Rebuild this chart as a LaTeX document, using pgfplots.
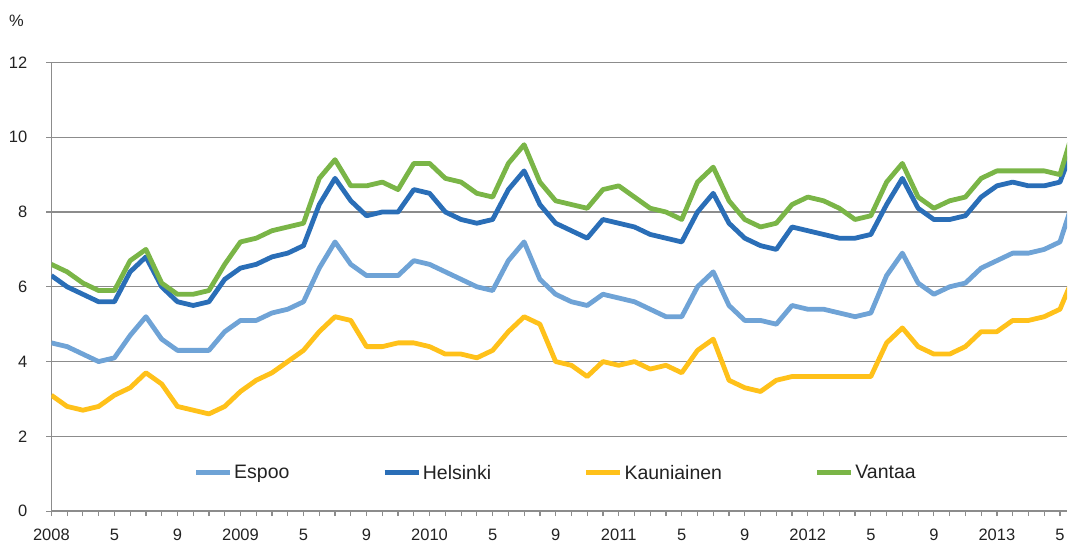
\documentclass[border=0pt]{standalone}
\usepackage{pgfplots}
\usepackage{pgfplotstable}
\pgfplotsset{compat=1.18}
\usepackage{fontspec}
\setmainfont{Liberation Sans}
\definecolor{espoo}{HTML}{6FA3D6}
\definecolor{helsinki}{HTML}{2A6EB7}
\definecolor{kaun}{HTML}{FFC11A}
\definecolor{vantaa}{HTML}{7AB547}
\definecolor{gridc}{HTML}{8C8C8C}
\definecolor{txt}{HTML}{222222}
\pgfplotstableread{
idx E H K V
0 4.5 6.3 3.1 6.6
1 4.4 6.0 2.8 6.4
2 4.2 5.8 2.7 6.1
3 4.0 5.6 2.8 5.9
4 4.1 5.6 3.1 5.9
5 4.7 6.4 3.3 6.7
6 5.2 6.8 3.7 7.0
7 4.6 6.0 3.4 6.1
8 4.3 5.6 2.8 5.8
9 4.3 5.5 2.7 5.8
10 4.3 5.6 2.6 5.9
11 4.8 6.2 2.8 6.6
12 5.1 6.5 3.2 7.2
13 5.1 6.6 3.5 7.3
14 5.3 6.8 3.7 7.5
15 5.4 6.9 4.0 7.6
16 5.6 7.1 4.3 7.7
17 6.5 8.2 4.8 8.9
18 7.2 8.9 5.2 9.4
19 6.6 8.3 5.1 8.7
20 6.3 7.9 4.4 8.7
21 6.3 8.0 4.4 8.8
22 6.3 8.0 4.5 8.6
23 6.7 8.6 4.5 9.3
24 6.6 8.5 4.4 9.3
25 6.4 8.0 4.2 8.9
26 6.2 7.8 4.2 8.8
27 6.0 7.7 4.1 8.5
28 5.9 7.8 4.3 8.4
29 6.7 8.6 4.8 9.3
30 7.2 9.1 5.2 9.8
31 6.2 8.2 5.0 8.8
32 5.8 7.7 4.0 8.3
33 5.6 7.5 3.9 8.2
34 5.5 7.3 3.6 8.1
35 5.8 7.8 4.0 8.6
36 5.7 7.7 3.9 8.7
37 5.6 7.6 4.0 8.4
38 5.4 7.4 3.8 8.1
39 5.2 7.3 3.9 8.0
40 5.2 7.2 3.7 7.8
41 6.0 8.0 4.3 8.8
42 6.4 8.5 4.6 9.2
43 5.5 7.7 3.5 8.3
44 5.1 7.3 3.3 7.8
45 5.1 7.1 3.2 7.6
46 5.0 7.0 3.5 7.7
47 5.5 7.6 3.6 8.2
48 5.4 7.5 3.6 8.4
49 5.4 7.4 3.6 8.3
50 5.3 7.3 3.6 8.1
51 5.2 7.3 3.6 7.8
52 5.3 7.4 3.6 7.9
53 6.3 8.2 4.5 8.8
54 6.9 8.9 4.9 9.3
55 6.1 8.1 4.4 8.4
56 5.8 7.8 4.2 8.1
57 6.0 7.8 4.2 8.3
58 6.1 7.9 4.4 8.4
59 6.5 8.4 4.8 8.9
60 6.7 8.7 4.8 9.1
61 6.9 8.8 5.1 9.1
62 6.9 8.7 5.1 9.1
63 7.0 8.7 5.2 9.1
64 7.2 8.8 5.4 9.0
65 8.5 9.9 6.4 10.4
}\datatable
\begin{document}
\begin{tikzpicture}
\begin{axis}[
  name=ax,
  at={(0,0)}, anchor=south west,
  scale only axis, width=1016.6bp, height=449bp,
  xmin=0, xmax=64.46, ymin=0, ymax=12,
  axis x line*=bottom, axis y line*=left,
  axis line style={gridc, line width=1.6bp},
  ytick={0,2,...,12},
  ymajorgrids, grid style={gridc, line width=1.2bp},
  xtick={0,...,64},
  xticklabels={2008,,,,5,,,,9,,,,2009,,,,5,,,,9,,,,2010,,,,5,,,,9,,,,2011,,,,5,,,,9,,,,2012,,,,5,,,,9,,,,2013,,,,5},
  tick align=outside, major tick length=5bp,
  tick style={gridc, line width=1.2bp},
  /pgf/number format/assume math mode=true,
  yticklabel style={font=\fontsize{16.5bp}{18bp}\selectfont, text=txt, anchor=east, inner sep=0pt, xshift=-19bp},
  xticklabel style={font=\fontsize{16.5bp}{18bp}\selectfont, text=txt, anchor=north, inner sep=0pt, yshift=-13bp},
  legend columns=4,
  legend style={draw=none, fill=none, inner sep=0pt, outer sep=0pt,
    at={(rel axis cs:0.1397,0.0857)}, anchor=west,
    font=\fontsize{19.5bp}{22bp}\selectfont, text=txt,
    nodes={inner xsep=1.5bp, inner ysep=0pt},
    /tikz/every even column/.append style={column sep=91bp}},
  legend image code/.code={\draw[#1, line width=5.5bp, line cap=butt] (0bp,0bp) -- (34bp,0bp);},
  every axis plot/.append style={line width=4.8bp, line join=round},
]
\addplot[espoo] table[x=idx, y=E] {\datatable};
\addlegendentry{Espoo}
\addplot[helsinki] table[x=idx, y=H] {\datatable};
\addlegendentry{Helsinki}
\addplot[kaun] table[x=idx, y=K] {\datatable};
\addlegendentry{Kauniainen}
\addplot[vantaa] table[x=idx, y=V] {\datatable};
\addlegendentry{Vantaa}
\end{axis}
\node[font=\fontsize{16.5bp}{18bp}\selectfont, text=txt] at ([xshift=-35bp, yshift=41.5bp]ax.north west) {\%};
\path[use as bounding box] (-51.4bp,-31.5bp) rectangle (1016.6bp,511.5bp);
\end{tikzpicture}
\end{document}
